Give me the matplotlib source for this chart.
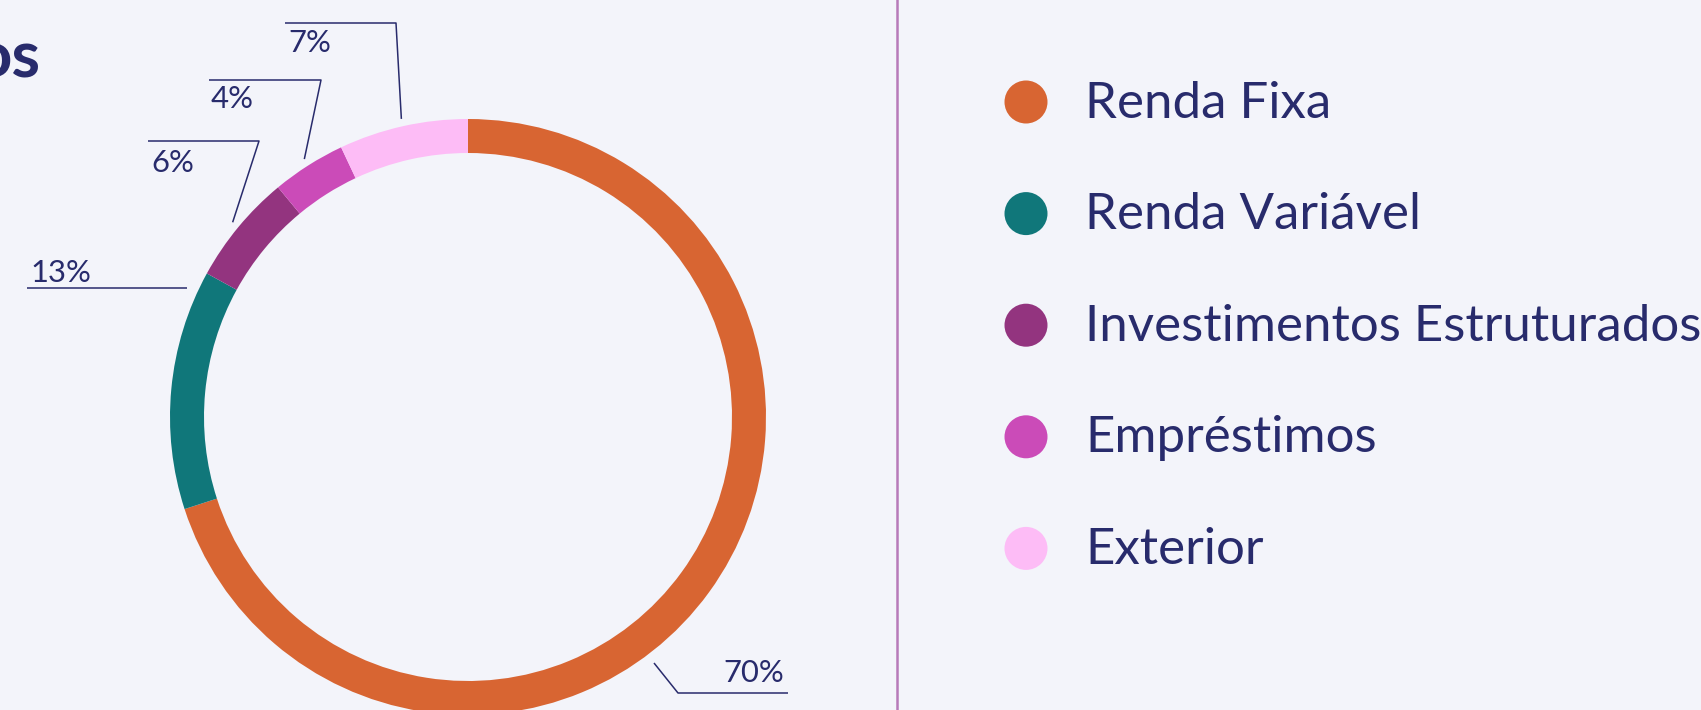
import matplotlib
matplotlib.use("Agg")
import matplotlib.pyplot as plt
from matplotlib.patches import Circle
from matplotlib.textpath import TextPath
from matplotlib.font_manager import FontProperties
import numpy as np

# Portfolio allocation
categories = ["Renda Fixa", "Renda Variável", "Investimentos Estruturados",
              "Empréstimos", "Exterior"]
shares = [70, 13, 6, 4, 7]
pct_labels = ["70%", "13%", "6%", "4%", "7%"]
colors = ["#D86532", "#10777A", "#93347F", "#CB4BB8", "#FDBCF6"]
title_tail = "os"

W, H = 1701, 710
BG = "#F3F4FA"
NAVY = "#282B6C"
FONT = "Lato"


def py(y):
    """Convert a top-down pixel row to the axes' bottom-up coordinate."""
    return H - y


def fit_size(text, width_px, weight="normal"):
    """Font size (pt) that makes `text` span `width_px` pixels at 100 dpi."""
    fp = FontProperties(family=FONT, weight=weight)
    w100 = TextPath((0, 0), text, size=100, prop=fp).get_extents().width
    return width_px * 72.0 / w100


fig = plt.figure(figsize=(W / 100, H / 100), dpi=100, facecolor=BG)
ax = fig.add_axes([0, 0, 1, 1])
ax.set_facecolor(BG)

# Donut ring
cx, cy = 468, py(417)
R, ring = 298, 34
ax.pie(shares, colors=colors, startangle=90, counterclock=False,
       radius=R, center=(cx, cy),
       wedgeprops=dict(width=ring, linewidth=0, antialiased=True))

# Slice mid-angles (degrees) for leader tips
edges = 90 - np.cumsum([0] + shares) * 3.6
mids = (edges[:-1] + edges[1:]) / 2


def ring_point(angle_deg, r):
    a = np.deg2rad(angle_deg)
    return cx + r * np.cos(a), cy + r * np.sin(a)


pct_size = fit_size("13%", 57)
lead_kw = dict(color=NAVY, lw=1.1, solid_capstyle="butt")

# Small slices at the top: horizontal rule above the label, then down to the ring
top_specs = {  # index: (rule x0, rule x1, rule y, text x, text baseline)
    4: (285, 396, 23, 288, 52),
    3: (209, 321, 80, 211, 108),
    2: (148, 259, 141, 151, 172),
}
for i, (x0, x1, yr, tx, tb) in top_specs.items():
    tipx, tipy = ring_point(mids[i], R * 1.025)
    ax.plot([x0, x1, tipx], [py(yr), py(yr), tipy], **lead_kw)
    ax.text(tx, py(tb), pct_labels[i], fontsize=pct_size, family=FONT,
            color=NAVY, ha="left", va="baseline")

# Renda Variável: straight rule under the label toward the ring
ax.plot([27, 187], [py(288), py(288)], **lead_kw)
ax.text(30, py(282), pct_labels[1], fontsize=pct_size, family=FONT,
        color=NAVY, ha="left", va="baseline")

# Renda Fixa: from the ring down to a rule under the label
ax.plot([654, 678, 788], [py(663), py(693), py(693)], **lead_kw)
ax.text(784, py(682), pct_labels[0], fontsize=pct_size, family=FONT,
        color=NAVY, ha="right", va="baseline")

# Title fragment at the left edge
ax.text(41, py(77), title_tail, fontsize=47, family=FONT, weight="bold",
        color=NAVY, ha="right", va="baseline")

# Vertical divider
ax.plot([897, 897], [0, H], color="#B77AB9", lw=1.8)

# Legend
leg_size = fit_size(max(categories, key=len), 609)
for i, (name, col) in enumerate(zip(categories, colors)):
    yc = 102 + 111.6 * i
    ax.add_patch(Circle((1026, py(yc)), 21.5, facecolor=col, edgecolor="none"))
    ax.text(1085, py(yc + 15.5), name, fontsize=leg_size, family=FONT,
            color=NAVY, ha="left", va="baseline")

ax.set_xlim(0, W)
ax.set_ylim(0, H)
ax.set_aspect("equal")
ax.axis("off")

fig.savefig("out.png", dpi=100, facecolor=BG)
